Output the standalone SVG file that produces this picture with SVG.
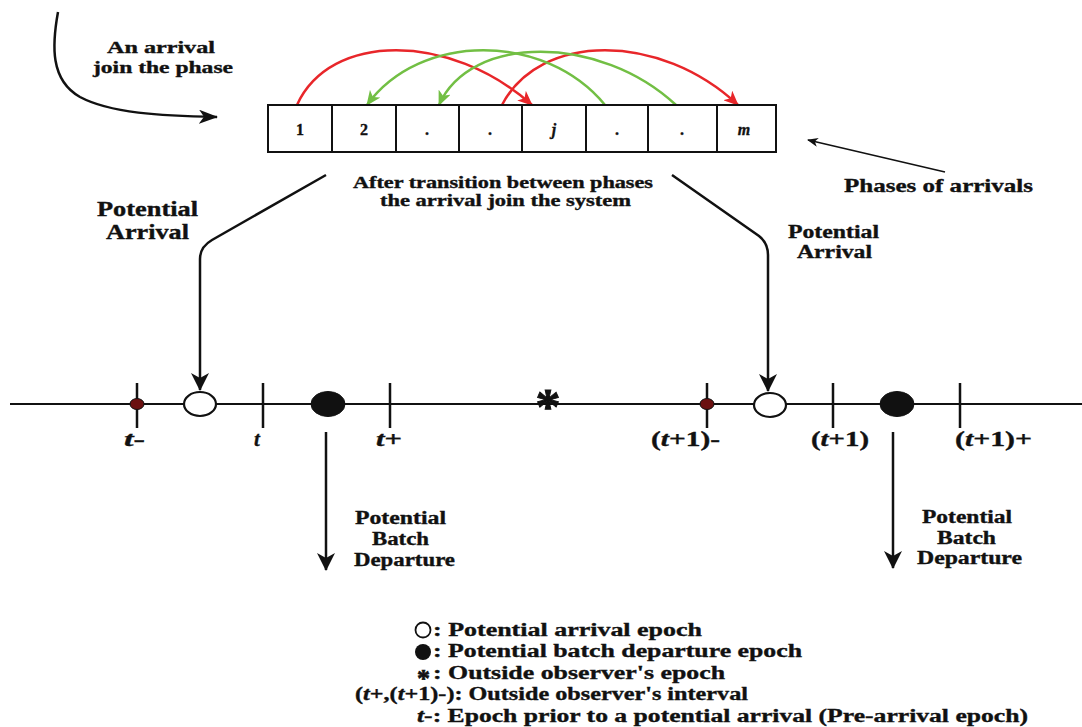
<svg xmlns="http://www.w3.org/2000/svg" width="1082" height="727" viewBox="0 0 1082 727">
<style>
text{font-family:"Liberation Serif","Times New Roman",serif;font-weight:bold;fill:#111;stroke:#111;stroke-width:0.35}
.it{font-style:italic}
.ln{fill:none;stroke:#111;stroke-width:2.5}
.thin{fill:none;stroke:#111;stroke-width:1.5}
.red{fill:none;stroke:#e8262a;stroke-width:2.5}
.grn{fill:none;stroke:#72bf44;stroke-width:2.5}
.tick{stroke:#111;stroke-width:2.5}
.cell{fill:#fff;stroke:#111;stroke-width:2}
.open{fill:#fff;stroke:#111;stroke-width:2.2}
.full{fill:#111;stroke:#111;stroke-width:1}
.pre{fill:#6b1010;stroke:#111;stroke-width:1}
</style>
<defs>
<marker id="ab" viewBox="0 0 18 18" refX="17" refY="9" markerWidth="18" markerHeight="18" markerUnits="userSpaceOnUse" orient="auto"><path d="M0,0 L18,9 L0,18 L5,9 z" fill="#111"/></marker>
<marker id="ac" viewBox="0 0 19 14" refX="18" refY="7" markerWidth="19" markerHeight="14" markerUnits="userSpaceOnUse" orient="auto"><path d="M0,0 L19,7 L0,14 L5,7 z" fill="#111"/></marker>
<marker id="as" viewBox="0 0 11 9" refX="10" refY="4.5" markerWidth="11" markerHeight="9" markerUnits="userSpaceOnUse" orient="auto"><path d="M0,0 L11,4.5 L0,9 L3,4.5 z" fill="#111"/></marker>
<marker id="ar" viewBox="0 0 15 13" refX="14" refY="6.5" markerWidth="15" markerHeight="13" markerUnits="userSpaceOnUse" orient="auto"><path d="M0,0 L15,6.5 L0,13 L4,6.5 z" fill="#e8262a"/></marker>
<marker id="ag" viewBox="0 0 15 13" refX="14" refY="6.5" markerWidth="15" markerHeight="13" markerUnits="userSpaceOnUse" orient="auto"><path d="M0,0 L15,6.5 L0,13 L4,6.5 z" fill="#72bf44"/></marker>
</defs>

<g id="connectors">
<path class="ln" d="M58,12 C52,45 50,80 80,97 C110,113 160,116 217,117" marker-end="url(#ac)"/>
<path class="red" d="M297,105 C330,32 450,32 532,105" marker-end="url(#ar)"/>
<path class="red" d="M502,105 C540,32 660,32 738,105" marker-end="url(#ar)"/>
<path class="grn" d="M605,105 C545,32 420,32 367,105" marker-end="url(#ag)"/>
<path class="grn" d="M676,105 C600,34 470,34 439,105" marker-end="url(#ag)"/>
<path class="thin" d="M945,172 L808,140" marker-end="url(#as)"/>
<path class="ln" d="M326,175 L212,240 Q200,247 200,259 L200,390" marker-end="url(#ab)"/>
<path class="ln" d="M672,175 L759,236 Q768,243 768,255 L768,391" marker-end="url(#ab)"/>
<path class="ln" d="M326,432 L326,570" marker-end="url(#ab)"/>
<path class="ln" d="M893,432 L893,568" marker-end="url(#ab)"/>
</g>

<g id="arrival-label">
<text x="107" y="53" font-size="17" textLength="108" lengthAdjust="spacingAndGlyphs">An arrival</text>
<text x="93" y="73" font-size="17" textLength="140" lengthAdjust="spacingAndGlyphs">join the phase</text>
</g>

<g id="phases">
<rect class="cell" x="268" y="105" width="508" height="47"/>
<path class="tick" d="M332,105V152M396,105V152M459,105V152M522,105V152M586,105V152M648,105V152M717,105V152" style="stroke-width:2"/>
<g font-size="16" text-anchor="middle">
<text x="300" y="135">1</text>
<text x="364" y="135">2</text>
<text x="427" y="135">.</text>
<text x="490" y="135">.</text>
<text x="554" y="135" class="it">j</text>
<text x="617" y="135">.</text>
<text x="682" y="135">.</text>
<text x="744" y="135" class="it">m</text>
</g>
</g>

<g id="transition-label">
<text x="353" y="188" font-size="16" textLength="300" lengthAdjust="spacingAndGlyphs">After transition between phases</text>
<text x="380" y="206" font-size="16" textLength="251" lengthAdjust="spacingAndGlyphs">the arrival join the system</text>
</g>

<g id="phases-label">
<text x="844" y="192" font-size="19" textLength="189" lengthAdjust="spacingAndGlyphs">Phases of arrivals</text>
</g>

<g id="potential-arrival-left">
<text x="97" y="216" font-size="20" textLength="101" lengthAdjust="spacingAndGlyphs">Potential</text>
<text x="106" y="239" font-size="20" textLength="83" lengthAdjust="spacingAndGlyphs">Arrival</text>
</g>

<g id="potential-arrival-right">
<text x="788" y="238" font-size="18" textLength="91" lengthAdjust="spacingAndGlyphs">Potential</text>
<text x="797" y="258" font-size="18" textLength="75" lengthAdjust="spacingAndGlyphs">Arrival</text>
</g>

<g id="timeline">
<line x1="10" y1="404" x2="1082" y2="404" stroke="#111" stroke-width="2"/>
<path class="tick" d="M137,383V428M263,383V428M390,383V428M707,383V428M833,383V428M960,383V428"/>
<ellipse class="pre" cx="137" cy="404" rx="7" ry="5.5"/>
<ellipse class="open" cx="200" cy="404" rx="16" ry="12"/>
<ellipse class="full" cx="328" cy="404" rx="17" ry="12.5"/>
<ellipse class="pre" cx="707" cy="404" rx="7" ry="5.5"/>
<ellipse class="open" cx="770" cy="405" rx="16" ry="12"/>
<ellipse class="full" cx="897" cy="404" rx="17" ry="12.5"/>
<text x="548" y="423" font-size="50" text-anchor="middle" style="stroke-width:1">*</text>
</g>

<g id="timeline-labels" font-size="21">
<text x="124" y="446" textLength="21" lengthAdjust="spacingAndGlyphs"><tspan class="it">t</tspan>-</text>
<text x="254" y="446" class="it">t</text>
<text x="376" y="446" textLength="26" lengthAdjust="spacingAndGlyphs"><tspan class="it">t</tspan>+</text>
<text x="651" y="446" textLength="69" lengthAdjust="spacingAndGlyphs">(<tspan class="it">t</tspan>+1)-</text>
<text x="811" y="446" textLength="58" lengthAdjust="spacingAndGlyphs">(<tspan class="it">t</tspan>+1)</text>
<text x="955" y="446" textLength="77" lengthAdjust="spacingAndGlyphs">(<tspan class="it">t</tspan>+1)+</text>
</g>

<g id="departure-left" font-size="18">
<text x="355" y="524" textLength="91" lengthAdjust="spacingAndGlyphs">Potential</text>
<text x="372" y="545" textLength="57" lengthAdjust="spacingAndGlyphs">Batch</text>
<text x="354" y="566" textLength="101" lengthAdjust="spacingAndGlyphs">Departure</text>
</g>

<g id="departure-right" font-size="18">
<text x="922" y="523" textLength="90" lengthAdjust="spacingAndGlyphs">Potential</text>
<text x="937" y="544" textLength="59" lengthAdjust="spacingAndGlyphs">Batch</text>
<text x="917" y="564" textLength="105" lengthAdjust="spacingAndGlyphs">Departure</text>
</g>

<g id="legend" font-size="18">
<circle class="open" cx="423" cy="630" r="7.5" style="stroke-width:1.8"/>
<text x="433" y="636" textLength="269" lengthAdjust="spacingAndGlyphs">: Potential arrival epoch</text>
<circle cx="423" cy="652" r="8" fill="#111"/>
<text x="433" y="657" textLength="369" lengthAdjust="spacingAndGlyphs">: Potential batch departure epoch</text>
<text y="679"><tspan x="417" dy="8" font-size="26" style="stroke-width:0.7">*</tspan><tspan x="433" dy="-8" textLength="292" lengthAdjust="spacingAndGlyphs">: Outside observer's epoch</tspan></text>
<text x="355" y="700" textLength="393" lengthAdjust="spacingAndGlyphs">(<tspan class="it">t</tspan>+,(<tspan class="it">t</tspan>+1)-): Outside observer's interval</text>
<text x="417" y="722" textLength="611" lengthAdjust="spacingAndGlyphs"><tspan class="it">t</tspan>-: Epoch prior to a potential arrival (Pre-arrival epoch)</text>
</g>
</svg>
